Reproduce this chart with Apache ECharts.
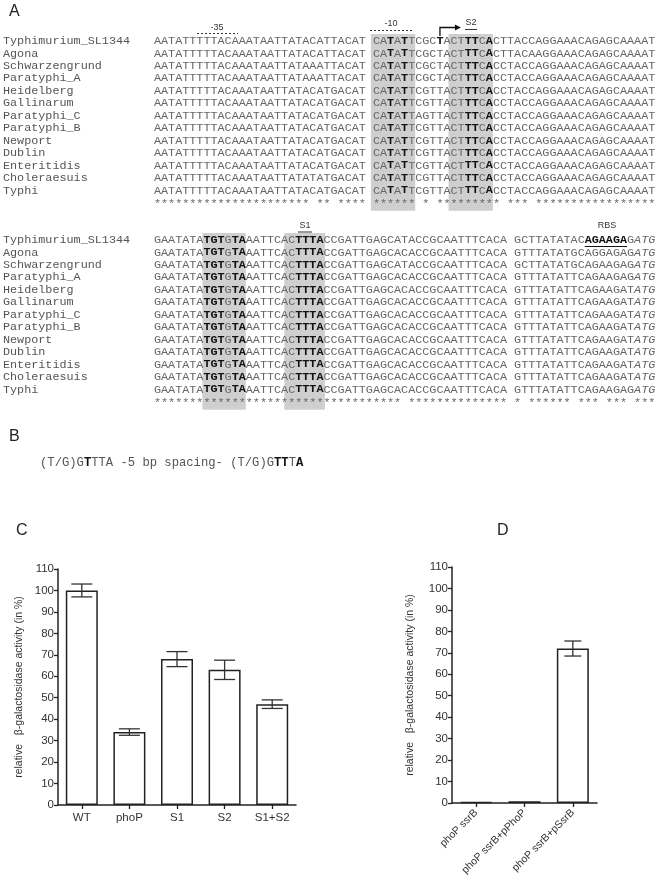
<!DOCTYPE html>
<html><head><meta charset="utf-8">
<script src="https://cdn.jsdelivr.net/npm/echarts@6/dist/echarts.min.js"></script>
<style>html,body{margin:0;padding:0;background:#fff}#c{width:661px;height:886px}</style>
</head><body><div id="c"></div>
<script>
// ---------- DATA ----------
const strainNames = ['Typhimurium_SL1344','Agona','Schwarzengrund','Paratyphi_A','Heidelberg','Gallinarum','Paratyphi_C','Paratyphi_B','Newport','Dublin','Enteritidis','Choleraesuis','Typhi'];
const seqBlock1 = [
 'AATATTTTTACAAATAATTATACATTACAT CATATTCGCTACTTTCACTTACCAGGAAACAGAGCAAAAT',
 'AATATTTTTACAAATAATTATACATTACAT CATATTCGCTACTTTCACTTACAAGGAAACAGAGCAAAAT',
 'AATATTTTTACAAATAATTATAAATTACAT CATATTCGCTACTTTCACCTACCAGGAAACAGAGCAAAAT',
 'AATATTTTTACAAATAATTATAAATTACAT CATATTCGCTACTTTCACCTACCAGGAAACAGAGCAAAAT',
 'AATATTTTTACAAATAATTATACATGACAT CATATTCGTTACTTTCACCTACCAGGAAACAGAGCAAAAT',
 'AATATTTTTACAAATAATTATACATGACAT CATATTCGTTACTTTCACCTACCAGGAAACAGAGCAAAAT',
 'AATATTTTTACAAATAATTATACATGACAT CATATTAGTTACTTTCACCTACCAGGAAACAGAGCAAAAT',
 'AATATTTTTACAAATAATTATACATGACAT CATATTCGTTACTTTCACCTACCAGGAAACAGAGCAAAAT',
 'AATATTTTTACAAATAATTATACATGACAT CATATTCGTTACTTTCACCTACCAGGAAACAGAGCAAAAT',
 'AATATTTTTACAAATAATTATACATGACAT CATATTCGTTACTTTCACCTACCAGGAAACAGAGCAAAAT',
 'AATATTTTTACAAATAATTATACATGACAT CATATTCGTTACTTTCACCTACCAGGAAACAGAGCAAAAT',
 'AATATTTTTACAAATAATTATATATGACAT CATATTCGTTACTTTCACCTACCAGGAAACAGAGCAAAAT',
 'AATATTTTTACAAATAATTATACATGACAT CATATTCGTTACTTTCACCTACCAGGAAACAGAGCAAAAT'
];
const seqBlock2 = [
 'GAATATATGTGTAAATTCACTTTACCGATTGAGCATACCGCAATTTCACA GCTTATATACAGAAGAGATG',
 'GAATATATGTGTAAATTCACTTTACCGATTGAGCACACCGCAATTTCACA GTTTATATGCAGGAGAGATG',
 'GAATATATGTGTAAATTCACTTTACCGATTGAGCATACCGCAATTTCACA GCTTATATGCAGAAGAGATG',
 'GAATATATGTGTAAATTCACTTTACCGATTGAGCACACCGCAATTTCACA GTTTATATTCAGAAGAGATG',
 'GAATATATGTGTAAATTCACTTTACCGATTGAGCACACCGCAATTTCACA GTTTATATTCAGAAGATATG',
 'GAATATATGTGTAAATTCACTTTACCGATTGAGCACACCGCAATTTCACA GTTTATATTCAGAAGATATG',
 'GAATATATGTGTAAATTCACTTTACCGATTGAGCACACCGCAATTTCACA GTTTATATTCAGAAGATATG',
 'GAATATATGTGTAAATTCACTTTACCGATTGAGCACACCGCAATTTCACA GTTTATATTCAGAAGATATG',
 'GAATATATGTGTAAATTCACTTTACCGATTGAGCACACCGCAATTTCACA GTTTATATTCAGAAGATATG',
 'GAATATATGTGTAAATTCACTTTACCGATTGAGCACACCGCAATTTCACA GTTTATATTCAGAAGATATG',
 'GAATATATGTGTAAATTCACTTTACCGATTGAGCACACCGCAATTTCACA GTTTATATTCAGAAGATATG',
 'GAATATATGTGTAAATTCACTTTACCGATTGAGCACACCGCAATTTCACA GTTTATATTCAGAAGATATG',
 'GAATATATGTGTAAATTCACTTTACCGATTGAGCACACCGCAATTTCACA GTTTATATTCAGAAGAGATG'
];
const motifB = ['(T/G)G','T','TTA -5 bp spacing- (T/G)G','TT','T','A'];
const motifBBold = [false,true,false,true,false,true];

const cCategories = ['WT','phoP','S1','S2','S1+S2'];
const cValues = [100, 34, 68, 63, 47];
const cErrors = [3, 1.5, 3.5, 4.5, 2];
const dCategories = ['phoP ssrB','phoP ssrB+pPhoP','phoP ssrB+pSsrB'];
const dValues = [0.5, 0.8, 72];
const dErrors = [0, 0, 3.5];
const yAxisTitle = 'relative   \u03b2-galactosidase activity (in %)';

// ---------- LAYOUT ----------
const FS = 11.77;
const MONO = '"Liberation Mono", monospace';
const cv = document.createElement('canvas').getContext('2d');
cv.font = FS + 'px ' + MONO;
const CW = cv.measureText('A').width;
const NAME_X = 3, SEQ_X = 154;
const ROW_H = 12.45;
const B1_Y = 41, B2_Y = 240;

function colX(c){ return SEQ_X + c * CW; }

function styleFor(block, row, col){
  if (block === 1){
    if ([33,35,44,45,47].includes(col)) return 'b';
    if (row === 0 && col === 40) return 'b';
  } else {
    if ([7,8,9,11,12,20,21,22,23].includes(col)) return 'b';
    if (row === 0 && col >= 61 && col <= 66) return 'b';
    if (col >= 68) return 'i';
  }
  return 'n';
}

const els = [];
function addText(x, y, text, font, fill, align, z){
  els.push({type:'text', x:x, y:y, z: z||10, silent:true,
    style:{text:text, font:font, fill:fill, textAlign: align||'left', textVerticalAlign:'middle', align: align||'left', verticalAlign:'middle'}});
}
function addLine(x1,y1,x2,y2,stroke,w,dash){
  els.push({type:'line', z:10, silent:true, shape:{x1,y1,x2,y2}, style:{stroke:stroke, lineWidth:w, lineDash: dash||null}});
}
function addRect(x,y,w,h,fill){
  els.push({type:'rect', z:1, silent:true, shape:{x,y,width:w,height:h}, style:{fill:fill}});
}

function drawBlock(block, seqs, y0){
  seqs.forEach((s, r) => {
    const y = y0 + r * ROW_H;
    addText(NAME_X, y, strainNames[r], FS + 'px ' + MONO, '#555');
    let start = 0;
    for (let c = 1; c <= s.length; c++){
      if (c === s.length || styleFor(block, r, c) !== styleFor(block, r, start)){
        const st = styleFor(block, r, start);
        const font = (st === 'b' ? 'bold ' : st === 'i' ? 'italic ' : '') + FS + 'px ' + MONO;
        addText(colX(start), y, s.slice(start, c), font, st === 'b' ? '#111' : '#666');
        start = c;
      }
    }
  });
  // conservation line
  const len = seqs[0].length;
  let stars = '';
  for (let c = 0; c < len; c++){
    const ch = seqs[0][c];
    stars += (ch !== ' ' && seqs.every(s => s[c] === ch)) ? '*' : ' ';
  }
  addText(SEQ_X, y0 + seqs.length * ROW_H + 1, stars, FS + 'px ' + MONO, '#666');
}

drawBlock(1, seqBlock1, B1_Y);
drawBlock(2, seqBlock2, B2_Y);

// shaded boxes
const boxTop1 = B1_Y - 7, boxBot1 = B1_Y + 13 * ROW_H + 8;
const boxTop2 = B2_Y - 7, boxBot2 = B2_Y + 13 * ROW_H + 8;
[[31,37],[42,48]].forEach(([a,b]) => addRect(colX(a) - 2, boxTop1, (b - a) * CW + 2, boxBot1 - boxTop1, '#cfcfcf'));
[[7,13],[18.6,24.2]].forEach(([a,b]) => addRect(colX(a) - 1, boxTop2, (b - a) * CW + 1, boxBot2 - boxTop2, '#cfcfcf'));

// annotations block 1
const SMALL = '9px Arial, "Liberation Sans", sans-serif';
addText(217, 28, '-35', SMALL, '#333', 'center');
addLine(197, 33.5, 238, 33.5, '#333', 1, [2,2]);
addText(391, 24, '-10', SMALL, '#333', 'center');
addLine(370, 30.5, 412, 30.5, '#333', 1, [2,2]);
const ax = colX(40) + CW / 2;
els.push({type:'polyline', z:10, silent:true, shape:{points:[[ax, 36],[ax, 27.5],[ax + 16, 27.5]]}, style:{stroke:'#111', lineWidth:1.3, fill:null}});
els.push({type:'polygon', z:10, silent:true, shape:{points:[[ax + 15, 24.5],[ax + 21, 27.5],[ax + 15, 30.5]]}, style:{fill:'#111'}});
addText(471, 23, 'S2', SMALL, '#333', 'center');
addLine(465, 29.5, 477, 29.5, '#333', 1);

// annotations block 2
addText(305, 226, 'S1', SMALL, '#333', 'center');
addLine(298, 232, 312, 232, '#333', 1);
addText(607, 226, 'RBS', SMALL, '#333', 'center');
addLine(colX(61), B2_Y + 6.5, colX(67), B2_Y + 6.5, '#111', 1.2);

// panel labels
const LBL = '16px Arial, "Liberation Sans", sans-serif';
addText(9, 12, 'A', LBL, '#222');
addText(9, 437, 'B', LBL, '#222');
addText(16, 531, 'C', LBL, '#222');
addText(497, 531, 'D', LBL, '#222');

// panel B motif
(function(){
  const fs = 12.2;
  cv.font = fs + 'px ' + MONO;
  const cw = cv.measureText('A').width;
  let x = 40;
  motifB.forEach((t, i) => {
    addText(x, 463, t, (motifBBold[i] ? 'bold ' : '') + fs + 'px ' + MONO, motifBBold[i] ? '#111' : '#555');
    x += t.length * cw;
  });
})();

// ---------- CHARTS ----------
const chart = echarts.init(document.getElementById('c'), null, {renderer:'canvas'});
const AX = '#222', TXT = '#333', SANS = 'Arial, "Liberation Sans", sans-serif';

function yAx(gridIndex, gap){
  return {type:'value', gridIndex, min:0, max:110, interval:10,
    name: yAxisTitle, nameLocation:'middle', nameRotate:90, nameGap: gap,
    nameTextStyle:{fontSize:10.5, color:TXT, fontFamily:SANS},
    axisLine:{show:true, lineStyle:{color:AX, width:1.5}},
    axisTick:{show:true, length:4, lineStyle:{color:AX, width:1.3}},
    axisLabel:{fontSize:11.5, color:TXT, fontFamily:SANS, margin:4},
    splitLine:{show:false}};
}
function xAx(gridIndex, cats, rotate){
  return {type:'category', gridIndex, data:cats,
    axisLine:{show:true, onZero:false, lineStyle:{color:AX, width:1.5}},
    axisTick:{show:true, alignWithLabel:true, length:4, lineStyle:{color:AX, width:1.3}},
    axisLabel:{fontSize: rotate ? 10.5 : 11.5, color:TXT, fontFamily:SANS, rotate: rotate || 0, margin: rotate ? 8 : 7, interval:0}};
}
function errSeries(idx, vals, errs, halfCap){
  return {type:'custom', xAxisIndex:idx, yAxisIndex:idx, z:5,
    data: vals.map((v, i) => [i, v - errs[i], v + errs[i]]),
    renderItem: function(params, api){
      if (api.value(2) - api.value(1) <= 0) return null;
      const lo = api.coord([api.value(0), api.value(1)]);
      const hi = api.coord([api.value(0), api.value(2)]);
      const st = {stroke:'#333', lineWidth:1.3};
      return {type:'group', children:[
        {type:'line', shape:{x1:lo[0], y1:lo[1], x2:hi[0], y2:hi[1]}, style:st},
        {type:'line', shape:{x1:lo[0]-halfCap, y1:lo[1], x2:lo[0]+halfCap, y2:lo[1]}, style:st},
        {type:'line', shape:{x1:hi[0]-halfCap, y1:hi[1], x2:hi[0]+halfCap, y2:hi[1]}, style:st}
      ]};
    }};
}

chart.setOption({
  animation:false,
  backgroundColor:'#fff',
  grid:[
    {left:58, top:569, width:238, height:236},
    {left:452, top:567, width:145, height:236}
  ],
  xAxis:[xAx(0, cCategories), xAx(1, dCategories, 45)],
  yAxis:[yAx(0, 33), yAx(1, 36)],
  series:[
    {type:'bar', xAxisIndex:0, yAxisIndex:0, data:cValues, barWidth:32,
     itemStyle:{color:'#fff', borderColor:'#222', borderWidth:1.5}},
    errSeries(0, cValues, cErrors, 10.5),
    {type:'bar', xAxisIndex:1, yAxisIndex:1, data:dValues, barWidth:32,
     itemStyle:{color:'#fff', borderColor:'#222', borderWidth:1.5}},
    errSeries(1, dValues, dErrors, 8.5)
  ],
  graphic:{elements: els}
});
</script>
</body></html>
